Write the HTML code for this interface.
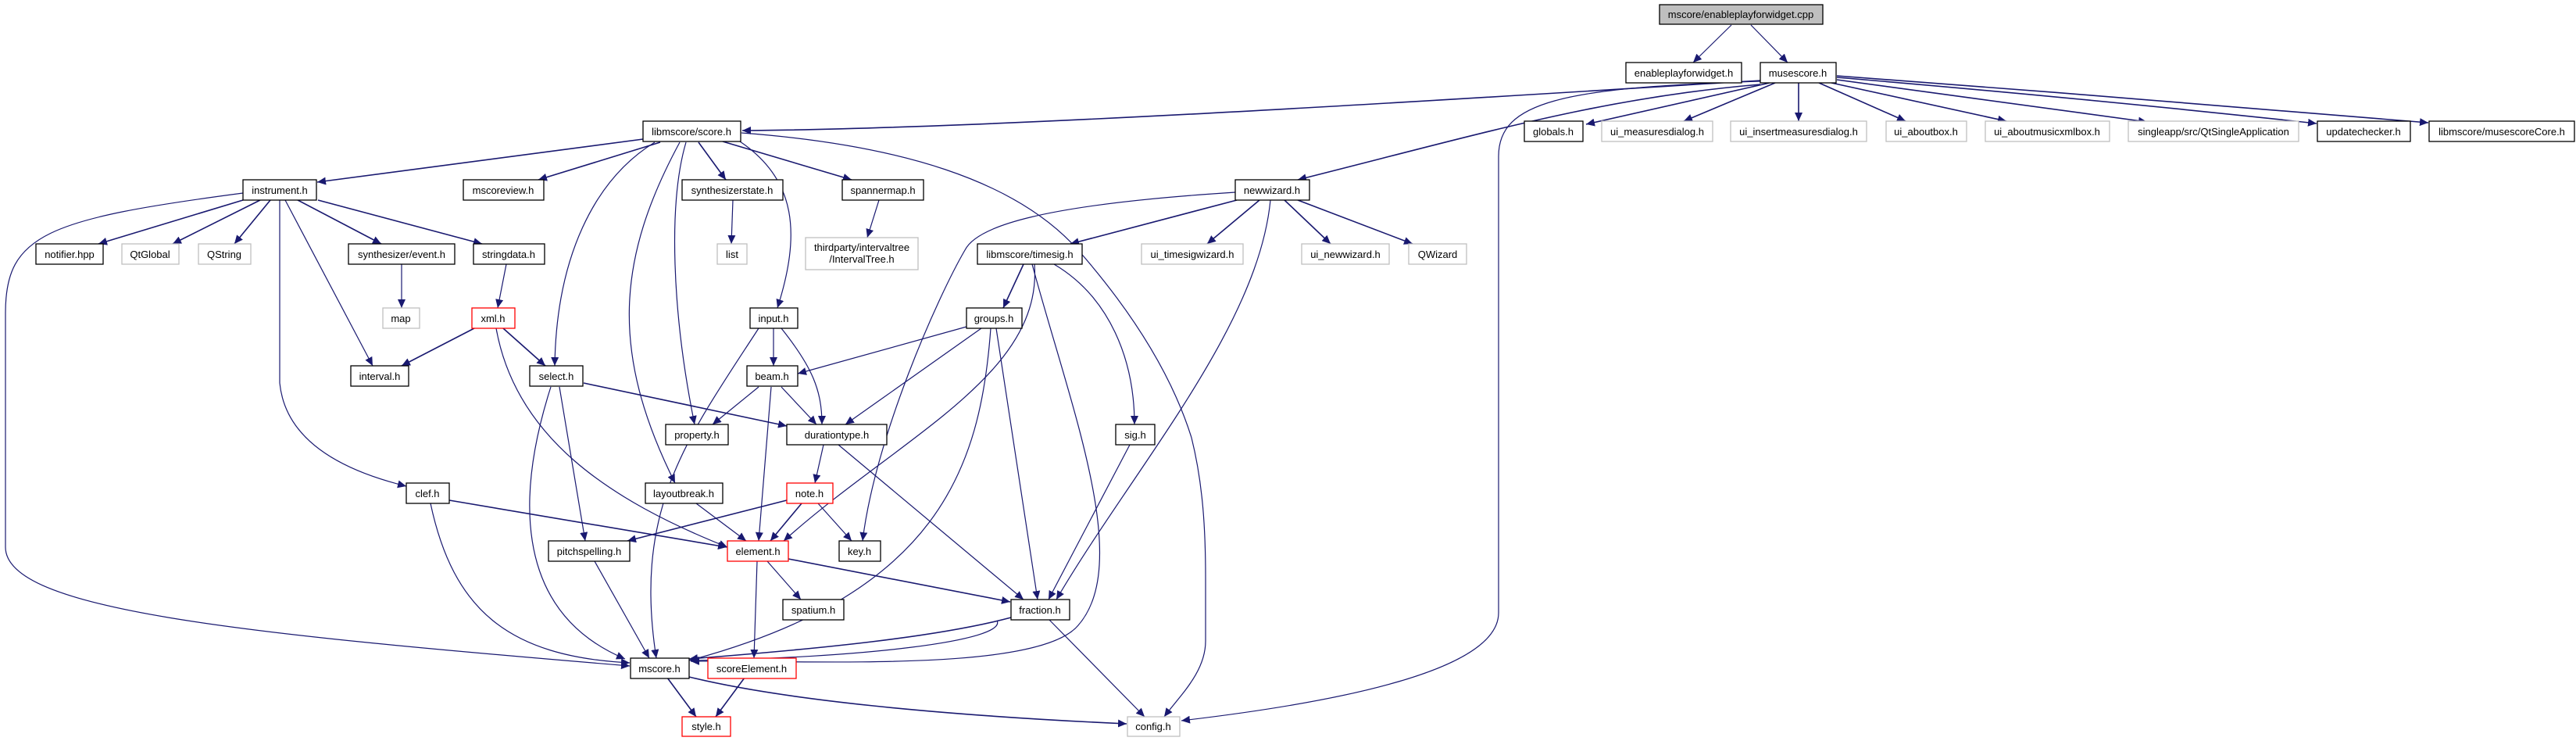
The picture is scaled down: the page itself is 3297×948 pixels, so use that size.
<!DOCTYPE html>
<html><head><meta charset="utf-8"><style>
html,body{margin:0;padding:0;background:#fff;}
svg{display:block;}
text{font-family:"Liberation Sans",Helvetica,sans-serif;font-size:13px;fill:#000;text-anchor:middle;}
.b{fill:#fff;stroke:#000;stroke-width:1.3;}
.g{fill:#fff;stroke:#bfbfbf;stroke-width:1.3;}
.r{fill:#fff;stroke:#ff0000;stroke-width:1.3;}
.e{fill:none;stroke:#191970;stroke-width:1.2;marker-end:url(#a);}
.t{stroke-width:1.6;}
</style></head><body>
<svg width="3297" height="948" viewBox="0 0 3297 948" xmlns="http://www.w3.org/2000/svg">
<defs><marker id="a" markerUnits="userSpaceOnUse" markerWidth="12" markerHeight="10" refX="11" refY="5" orient="auto"><path d="M0,0 L11,5 L0,10 z" fill="#191970"/></marker></defs>

<!-- edges -->
<path class="e" d="M2216,32 L2167,80"/>
<path class="e" d="M2241,32 L2288,80"/>
<path class="e t" d="M2253,103 C2000,118 1300,165 950,167"/>
<path class="e t" d="M2265,106 L2030,159"/>
<path class="e t" d="M2272,106 L2155,155"/>
<path class="e t" d="M2302,106 L2302,155"/>
<path class="e t" d="M2328,106 L2439,155"/>
<path class="e t" d="M2344,106 L2568,155"/>
<path class="e t" d="M2351,102 L2748,156"/>
<path class="e t" d="M2351,99 C2600,120 2800,140 2965,158"/>
<path class="e t" d="M2351,97 C2600,115 2900,140 3108,157"/>
<path class="e t" d="M2253,108 C2050,125 1900,170 1661,230"/>
<path class="e" d="M2253,104 C2000,112 1918,130 1918,200 L1918,784 C1918,860 1700,900 1512,922"/>
<path class="e t" d="M823,178 L406,233"/>
<path class="e t" d="M845,182 L689,230"/>
<path class="e t" d="M894,182 L929,230"/>
<path class="e t" d="M925,181 L1090,230"/>
<path class="e" d="M947,181 C1020,230 1025,300 995,394"/>
<path class="e" d="M838,182 C760,230 712,330 710,468"/>
<path class="e" d="M870,182 C790,330 780,450 864,618"/>
<path class="e" d="M878,182 C855,260 860,400 889,543"/>
<path class="e" d="M949,170 C1150,185 1300,230 1380,320 C1450,400 1500,480 1525,560 C1540,620 1543,680 1543,740 L1543,820 C1543,860 1510,890 1490,917"/>
<path class="e" d="M1125,256 L1110,304"/>
<path class="e" d="M938,256 L936,312"/>
<path class="e t" d="M311,256 L126,312"/>
<path class="e t" d="M333,256 L221,312"/>
<path class="e t" d="M346,256 L300,312"/>
<path class="e t" d="M381,256 L488,312"/>
<path class="e t" d="M407,256 L617,312"/>
<path class="e" d="M365,256 L477,468"/>
<path class="e" d="M358,256 L358,490 C365,560 430,600 520,622"/>
<path class="e" d="M311,247 C60,280 7,300 7,400 L7,700 C7,780 300,810 806,852"/>
<path class="e" d="M514,338 L514,394"/>
<path class="e" d="M648,338 L637,394"/>
<path class="e t" d="M607,420 L514,468"/>
<path class="e t" d="M644,420 L698,468"/>
<path class="e" d="M635,420 C660,560 780,640 931,700"/>
<path class="e" d="M990,420 L990,468"/>
<path class="e" d="M1000,420 C1040,470 1052,500 1052,543"/>
<path class="e" d="M971,420 C880,560 810,650 840,842"/>
<path class="e" d="M971,495 L912,543"/>
<path class="e" d="M1000,495 L1045,543"/>
<path class="e" d="M987,495 L971,692"/>
<path class="e t" d="M747,490 L1007,545"/>
<path class="e" d="M716,495 L749,692"/>
<path class="e" d="M705,495 C665,620 650,780 800,843"/>
<path class="e t" d="M575,640 L930,700"/>
<path class="e" d="M551,644 C580,780 650,840 806,848"/>
<path class="e" d="M891,644 L955,692"/>
<path class="e t" d="M1007,640 L803,692"/>
<path class="e t" d="M1026,644 L986,692"/>
<path class="e" d="M1047,644 L1090,692"/>
<path class="e" d="M1054,569 L1043,618"/>
<path class="e" d="M1073,569 L1310,767"/>
<path class="e" d="M761,718 L831,842"/>
<path class="e" d="M982,718 L1025,767"/>
<path class="e" d="M969,718 L965,842"/>
<path class="e t" d="M1009,715 L1293,770"/>
<path class="e t" d="M854,867 L891,917"/>
<path class="e t" d="M953,867 L916,917"/>
<path class="e t" d="M882,866 C1000,895 1200,915 1442,926"/>
<path class="e t" d="M1294,790 C1200,815 1050,830 882,843"/>
<path class="e" d="M1276,794 C1290,820 1100,842 884,845"/>
<path class="e" d="M1343,793 L1465,917"/>
<path class="e" d="M1446,569 L1342,767"/>
<path class="e t" d="M1583,256 L1370,312"/>
<path class="e t" d="M1612,256 L1545,312"/>
<path class="e t" d="M1644,256 L1703,312"/>
<path class="e t" d="M1661,256 L1808,312"/>
<path class="e" d="M1581,246 C1330,262 1250,290 1235,320 C1200,380 1120,560 1104,692"/>
<path class="e" d="M1626,256 C1610,420 1450,600 1352,767"/>
<path class="e t" d="M1310,338 L1284,394"/>
<path class="e" d="M1349,338 C1420,380 1452,460 1452,543"/>
<path class="e" d="M1324,338 C1335,480 1150,560 1003,692"/>
<path class="e" d="M1321,338 C1370,520 1450,720 1380,800 C1330,860 1050,845 884,846"/>
<path class="e" d="M1237,418 L1021,478"/>
<path class="e" d="M1256,420 L1082,543"/>
<path class="e" d="M1275,420 L1328,767"/>
<path class="e" d="M1268,420 C1255,600 1200,760 882,845"/>

<!-- nodes -->
<rect x="2124" y="6" width="209" height="25" fill="#bfbfbf" stroke="#000" stroke-width="1.3"/><text x="2228" y="23">mscore/enableplayforwidget.cpp</text>
<rect class="b" x="2081" y="80" width="148" height="26"/><text x="2155" y="98">enableplayforwidget.h</text>
<rect class="b" x="2253" y="80" width="97" height="26"/><text x="2301" y="98">musescore.h</text>

<rect class="b" x="823" y="155" width="125" height="26"/><text x="885" y="173">libmscore/score.h</text>
<rect class="b" x="1951" y="155" width="75" height="26"/><text x="1988" y="173">globals.h</text>
<rect class="g" x="2050" y="155" width="142" height="26"/><text x="2121" y="173">ui_measuresdialog.h</text>
<rect class="g" x="2215" y="155" width="174" height="26"/><text x="2302" y="173">ui_insertmeasuresdialog.h</text>
<rect class="g" x="2414" y="155" width="103" height="26"/><text x="2465" y="173">ui_aboutbox.h</text>
<rect class="g" x="2541" y="155" width="159" height="26"/><text x="2620" y="173">ui_aboutmusicxmlbox.h</text>
<rect class="g" x="2724" y="155" width="218" height="26"/><text x="2833" y="173">singleapp/src/QtSingleApplication</text>
<rect class="b" x="2966" y="155" width="119" height="26"/><text x="3025" y="173">updatechecker.h</text>
<rect class="b" x="3109" y="155" width="186" height="26"/><text x="3202" y="173">libmscore/musescoreCore.h</text>

<rect class="b" x="311" y="230" width="94" height="26"/><text x="358" y="248">instrument.h</text>
<rect class="b" x="593" y="230" width="103" height="26"/><text x="644" y="248">mscoreview.h</text>
<rect class="b" x="873" y="230" width="129" height="26"/><text x="937" y="248">synthesizerstate.h</text>
<rect class="b" x="1078" y="230" width="104" height="26"/><text x="1130" y="248">spannermap.h</text>
<rect class="b" x="1581" y="230" width="95" height="26"/><text x="1628" y="248">newwizard.h</text>

<rect class="b" x="46" y="312" width="86" height="26"/><text x="89" y="330">notifier.hpp</text>
<rect class="g" x="156" y="312" width="73" height="26"/><text x="192" y="330">QtGlobal</text>
<rect class="g" x="254" y="312" width="67" height="26"/><text x="287" y="330">QString</text>
<rect class="b" x="446" y="312" width="136" height="26"/><text x="514" y="330">synthesizer/event.h</text>
<rect class="b" x="606" y="312" width="91" height="26"/><text x="651" y="330">stringdata.h</text>
<rect class="g" x="918" y="312" width="38" height="26"/><text x="937" y="330">list</text>
<rect class="g" x="1031" y="304" width="144" height="41"/><text x="1103" y="321">thirdparty/intervaltree</text><text x="1103" y="336">/IntervalTree.h</text>
<rect class="b" x="1251" y="312" width="134" height="26"/><text x="1318" y="330">libmscore/timesig.h</text>
<rect class="g" x="1461" y="312" width="130" height="26"/><text x="1526" y="330">ui_timesigwizard.h</text>
<rect class="g" x="1666" y="312" width="112" height="26"/><text x="1722" y="330">ui_newwizard.h</text>
<rect class="g" x="1803" y="312" width="74" height="26"/><text x="1840" y="330">QWizard</text>

<rect class="g" x="490" y="394" width="47" height="26"/><text x="513" y="412">map</text>
<rect class="r" x="604" y="394" width="55" height="26"/><text x="631" y="412">xml.h</text>
<rect class="b" x="960" y="394" width="61" height="26"/><text x="990" y="412">input.h</text>
<rect class="b" x="1237" y="394" width="71" height="26"/><text x="1272" y="412">groups.h</text>

<rect class="b" x="449" y="468" width="74" height="26"/><text x="486" y="486">interval.h</text>
<rect class="b" x="678" y="468" width="68" height="26"/><text x="712" y="486">select.h</text>
<rect class="b" x="956" y="468" width="65" height="26"/><text x="988" y="486">beam.h</text>

<rect class="b" x="852" y="543" width="80" height="26"/><text x="892" y="561">property.h</text>
<rect class="b" x="1007" y="543" width="128" height="26"/><text x="1071" y="561">durationtype.h</text>
<rect class="b" x="1428" y="543" width="50" height="26"/><text x="1453" y="561">sig.h</text>

<rect class="b" x="520" y="618" width="55" height="26"/><text x="547" y="636">clef.h</text>
<rect class="b" x="826" y="618" width="99" height="26"/><text x="875" y="636">layoutbreak.h</text>
<rect class="r" x="1007" y="618" width="59" height="26"/><text x="1036" y="636">note.h</text>

<rect class="b" x="702" y="692" width="104" height="26"/><text x="754" y="710">pitchspelling.h</text>
<rect class="r" x="931" y="692" width="78" height="26"/><text x="970" y="710">element.h</text>
<rect class="b" x="1074" y="692" width="53" height="26"/><text x="1100" y="710">key.h</text>

<rect class="b" x="1002" y="767" width="78" height="26"/><text x="1041" y="785">spatium.h</text>
<rect class="b" x="1294" y="767" width="75" height="26"/><text x="1331" y="785">fraction.h</text>

<rect class="b" x="807" y="842" width="75" height="26"/><text x="844" y="860">mscore.h</text>
<rect class="r" x="906" y="842" width="113" height="26"/><text x="962" y="860">scoreElement.h</text>

<rect class="r" x="873" y="917" width="62" height="25"/><text x="904" y="934">style.h</text>
<rect class="g" x="1443" y="917" width="67" height="25"/><text x="1476" y="934">config.h</text>
</svg>
</body></html>
